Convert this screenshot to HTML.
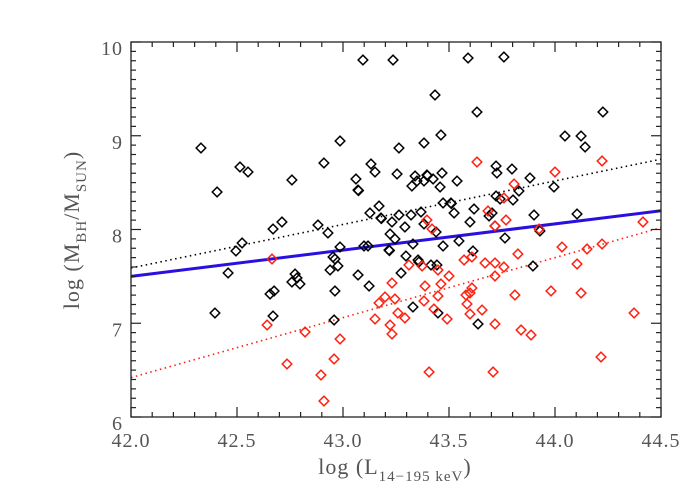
<!DOCTYPE html>
<html><head><meta charset="utf-8"><style>
html,body{margin:0;padding:0;background:#fff;}
svg{display:block;}
text{font-family:"Liberation Serif",serif;fill:#555;}
</style></head><body>
<svg id="chart" width="700" height="500" viewBox="0 0 700 500" xmlns="http://www.w3.org/2000/svg">
<g id="fits"></g>
<g id="pts"></g>
<g id="axes"></g>
<text x="395" y="474" text-anchor="middle" font-size="22" letter-spacing="1">log (L<tspan font-size="15" dy="7">14−195 keV</tspan><tspan dy="-7">)</tspan></text>
<text transform="translate(79,230) rotate(-90)" text-anchor="middle" font-size="22" letter-spacing="1">log (M<tspan font-size="15" dy="7">BH</tspan><tspan dy="-7">/M</tspan><tspan font-size="15" dy="7">SUN</tspan><tspan dy="-7">)</tspan></text>
</svg>
<script>
const blackX=[42.330,42.406,42.514,42.552,42.759,42.910,42.986,43.094,43.236,43.590,43.759,43.434,43.632,44.226,43.462,43.382,43.264,44.047,44.123,44.142,43.061,43.071,43.073,43.132,43.151,43.255,43.340,43.325,43.349,43.396,43.398,43.382,43.425,43.467,43.458,43.538,43.722,43.726,43.797,43.882,43.995,43.722,43.741,43.802,43.830,43.472,43.509,43.511,43.524,43.618,43.703,43.689,43.599,43.901,44.104,43.717,43.929,43.764,43.547,43.170,43.127,43.179,43.181,43.231,43.264,43.321,43.368,43.382,43.292,43.439,43.222,43.245,43.099,43.118,43.217,43.219,43.330,43.472,43.297,43.613,43.354,42.712,42.882,42.929,42.670,42.524,42.495,42.986,42.953,42.962,42.939,42.976,42.458,42.396,42.656,42.675,42.670,42.759,42.774,42.783,42.797,42.962,42.958,43.071,43.123,43.274,43.330,43.415,43.443,43.358,43.448,43.637,43.896];
const blackY=[8.869,8.400,8.667,8.613,8.528,8.709,8.944,9.808,9.808,9.829,9.840,9.435,9.253,9.253,9.008,8.923,8.869,8.997,8.997,8.880,8.539,8.421,8.415,8.699,8.613,8.592,8.571,8.464,8.517,8.581,8.575,8.517,8.539,8.603,8.453,8.517,8.677,8.603,8.645,8.549,8.453,8.357,8.325,8.315,8.411,8.283,8.283,8.277,8.176,8.219,8.176,8.144,8.080,8.155,8.165,8.037,7.984,7.909,7.877,8.251,8.176,8.123,8.117,8.080,8.155,8.155,8.187,8.059,8.027,7.973,7.952,7.899,7.824,7.824,7.781,7.775,7.845,7.824,7.717,7.771,7.675,8.080,8.048,7.963,8.005,7.856,7.771,7.813,7.707,7.685,7.568,7.611,7.536,7.109,7.312,7.344,7.077,7.440,7.525,7.483,7.419,7.344,7.035,7.515,7.397,7.536,7.173,7.621,7.621,7.653,7.109,6.992,7.611];
const redX=[43.632,44.222,44.000,43.807,43.759,43.684,43.769,43.717,43.396,43.420,43.925,44.415,44.033,44.151,44.222,43.825,43.571,43.608,43.311,43.373,43.448,43.670,43.717,43.759,43.717,43.500,43.231,43.387,43.462,43.608,43.599,43.981,44.123,44.104,43.811,43.580,43.448,43.170,43.198,43.245,43.382,43.585,43.656,43.599,43.429,43.259,43.292,43.151,43.491,43.222,43.231,43.717,43.840,43.887,44.373,44.217,43.406,43.708,42.665,42.642,42.821,42.986,42.736,42.958,42.896,42.910];
const redY=[8.720,8.731,8.613,8.485,8.336,8.197,8.101,8.037,8.101,8.005,8.005,8.080,7.813,7.792,7.845,7.739,7.675,7.707,7.621,7.611,7.568,7.643,7.643,7.600,7.504,7.504,7.429,7.397,7.419,7.376,7.323,7.344,7.323,7.632,7.301,7.301,7.291,7.216,7.280,7.259,7.237,7.205,7.141,7.099,7.152,7.109,7.056,7.045,7.045,6.981,6.885,6.992,6.928,6.875,7.109,6.640,6.480,6.480,7.685,6.981,6.907,6.832,6.565,6.619,6.448,6.171];
const fitBlue=[7.50,8.20];
const fitBlack=[7.59,8.75];
const fitRed=[6.42,8.02];
const xTicks=["42.0","42.5","43.0","43.5","44.0","44.5"];
const yTicks=["6","7","8","9","10"];
const NS="http://www.w3.org/2000/svg";
const L=131,R=661,T=42,B=417,X0=42,X1=44.5,Y0=6,Y1=10;
function sx(v){return L+(v-X0)/(X1-X0)*(R-L);}
function sy(v){return B-(v-Y0)/(Y1-Y0)*(B-T);}
function mk(tag,attrs,parent){const e=document.createElementNS(NS,tag);for(const k in attrs)e.setAttribute(k,attrs[k]);parent.appendChild(e);return e;}
const fits=document.getElementById('fits');
function fit(arr,color,w,dash,name){
  const e=mk('line',{x1:sx(X0),y1:sy(arr[0]),x2:sx(X1),y2:sy(arr[1]),stroke:color,'stroke-width':w},fits);
  if(dash)e.setAttribute('stroke-dasharray',dash);
  
  
}
fit(fitBlack,'#000',1.6,'1.5 3.5','black-fit-line');
fit(fitRed,'#ff2010',1.6,'1.5 3.5','red-fit-line');
const pts=document.getElementById('pts');
function dia(x,y,color,name){
  const cx=sx(x),cy=sy(y),r=4.8;
  const p=mk('polygon',{points:`${cx},${cy-r} ${cx+r},${cy} ${cx},${cy+r} ${cx-r},${cy}`,fill:'none',stroke:color,'stroke-width':1.5},pts);
  
  
}
blackX.forEach((x,i)=>dia(x,blackY[i],'#000','black-point'));
redX.forEach((x,i)=>dia(x,redY[i],'#ff2010','red-point'));
fit(fitBlue,'#2a10e0',3,null,'blue-fit-line');
const ax=document.getElementById('axes');
const fr=mk('rect',{x:L,y:T,width:R-L,height:B-T,fill:'none',stroke:'#222','stroke-width':1.3},ax);


for(let i=0;i<=25;i++){
  const v=X0+i*0.1,x=sx(v),len=(i%5===0)?10:5;
  mk('line',{x1:x,y1:B,x2:x,y2:B-len,stroke:'#222','stroke-width':1.2},ax);
  mk('line',{x1:x,y1:T,x2:x,y2:T+len,stroke:'#222','stroke-width':1.2},ax);
}
for(let i=0;i<=40;i++){
  const v=Y0+i*0.1,y=sy(v),len=(i%10===0)?10:5;
  mk('line',{x1:L,y1:y,x2:L+len,y2:y,stroke:'#222','stroke-width':1.2},ax);
  mk('line',{x1:R,y1:y,x2:R-len,y2:y,stroke:'#222','stroke-width':1.2},ax);
}
xTicks.forEach(t=>{
  const e=mk('text',{x:sx(parseFloat(t)),y:447,'text-anchor':'middle','font-size':20,'letter-spacing':1},ax);
  e.textContent=t;
  
  
});
yTicks.forEach(t=>{
  const e=mk('text',{x:123,y:sy(parseFloat(t))+13,'text-anchor':'end','font-size':20,'letter-spacing':1},ax);
  e.textContent=t;
  
  
});
</script>
</body></html>
